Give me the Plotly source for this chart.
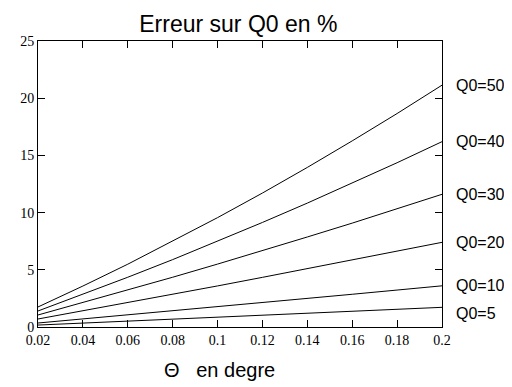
import plotly.graph_objects as go

theta = [0.02, 0.04, 0.06, 0.08, 0.10, 0.12, 0.14, 0.16, 0.18, 0.20]
q50 = [1.75, 3.58, 5.49, 7.49, 9.56, 11.71, 13.95, 16.27, 18.66, 21.14]
q40 = [1.40, 2.85, 4.35, 5.89, 7.49, 9.14, 10.83, 12.57, 14.36, 16.20]
q30 = [1.05, 2.13, 3.22, 4.35, 5.50, 6.67, 7.87, 9.08, 10.33, 11.60]
q20 = [0.70, 1.41, 2.13, 2.85, 3.59, 4.34, 5.09, 5.85, 6.62, 7.40]
q10 = [0.35, 0.70, 1.06, 1.41, 1.77, 2.13, 2.50, 2.86, 3.23, 3.60]
q5 = [0.17, 0.34, 0.52, 0.69, 0.86, 1.03, 1.20, 1.38, 1.55, 1.72]
series_names = ["Q0=50", "Q0=40", "Q0=30", "Q0=20", "Q0=10", "Q0=5"]
series = [q50, q40, q30, q20, q10, q5]
label_yshift = [0, 0, 0, 0, 0, -6]

fig = go.Figure()
for name, vals, ys in zip(series_names, series, label_yshift):
    fig.add_trace(go.Scatter(x=theta, y=vals, mode="lines", name=name,
                             line=dict(color="black", width=1), showlegend=False))
    fig.add_annotation(x=theta[-1], y=vals[-1], text=name, showarrow=False,
                       xanchor="left", xshift=12, yshift=ys,
                       font=dict(family="Liberation Sans, Arial", size=16, color="black"))

fig.add_annotation(xref="paper", yref="paper", x=0.45, y=-0.15, yanchor="middle",
                   text="Θ   en degre", showarrow=False,
                   font=dict(family="Liberation Sans, Arial", size=20, color="black"))

axis_common = dict(showline=True, linecolor="black", linewidth=1, mirror="ticks",
                   ticks="inside", ticklen=7, tickcolor="black", tickwidth=1,
                   showgrid=False, zeroline=False,
                   tickfont=dict(family="Liberation Serif, Times New Roman", size=14, color="black"))

fig.update_xaxes(range=[0.02, 0.2], dtick=0.02, tick0=0.02, **axis_common)
fig.update_yaxes(range=[0, 25], dtick=5, **axis_common)

fig.update_layout(
    width=504, height=379,
    margin=dict(l=27, r=70, t=33, b=60),
    paper_bgcolor="white", plot_bgcolor="white",
    title=dict(text="Erreur sur Q0 en %", x=0.457, xanchor="center", y=0.958, yanchor="middle",
               font=dict(family="Liberation Sans, Arial", size=23, color="black")),
)

fig.write_html("out.html")
